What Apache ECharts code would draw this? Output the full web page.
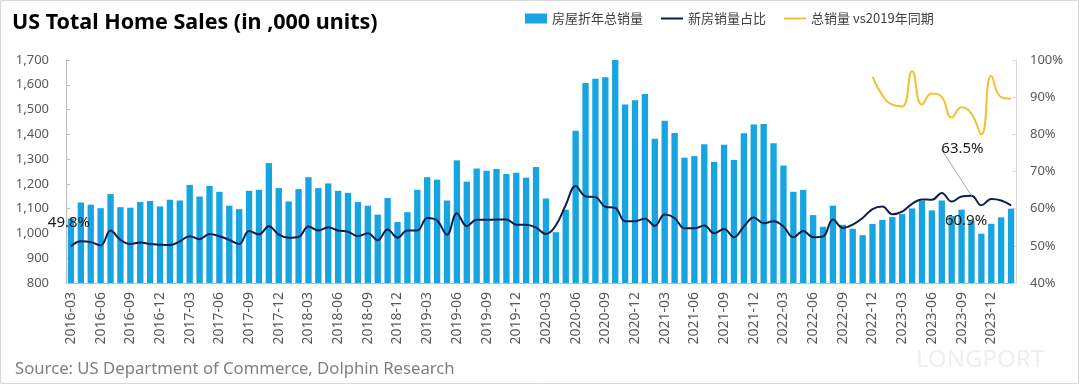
<!DOCTYPE html>
<html>
<head>
<meta charset="utf-8">
<script src="https://cdn.jsdelivr.net/npm/echarts@6/dist/echarts.min.js"></script>
<style>
html,body{margin:0;padding:0;background:#fff;}
#chart{width:1080px;height:386px;}
</style>
</head>
<body>
<div id="chart"></div>
<script>
const categories = [
'2016-03','2016-04','2016-05','2016-06','2016-07','2016-08','2016-09','2016-10','2016-11','2016-12',
'2017-01','2017-02','2017-03','2017-04','2017-05','2017-06','2017-07','2017-08','2017-09','2017-10','2017-11','2017-12',
'2018-01','2018-02','2018-03','2018-04','2018-05','2018-06','2018-07','2018-08','2018-09','2018-10','2018-11','2018-12',
'2019-01','2019-02','2019-03','2019-04','2019-05','2019-06','2019-07','2019-08','2019-09','2019-10','2019-11','2019-12',
'2020-01','2020-02','2020-03','2020-04','2020-05','2020-06','2020-07','2020-08','2020-09','2020-10','2020-11','2020-12',
'2021-01','2021-02','2021-03','2021-04','2021-05','2021-06','2021-07','2021-08','2021-09','2021-10','2021-11','2021-12',
'2022-01','2022-02','2022-03','2022-04','2022-05','2022-06','2022-07','2022-08','2022-09','2022-10','2022-11','2022-12',
'2023-01','2023-02','2023-03','2023-04','2023-05','2023-06','2023-07','2023-08','2023-09','2023-10','2023-11','2023-12',
'2024-01','2024-02'
];

// 房屋折年总销量 (,000 units)
const totalSales = [
1060,1125,1116,1102,1159,1106,1104,1127,1131,1109,
1136,1133,1196,1149,1192,1168,1112,1098,1172,1176,1284,1183,
1129,1179,1227,1183,1202,1172,1164,1127,1112,1076,1143,1046,
1086,1176,1227,1217,1133,1295,1209,1262,1253,1260,1240,1245,
1225,1268,1141,1005,1096,1414,1607,1624,1630,1700,1520,1538,
1563,1382,1455,1405,1306,1312,1360,1289,1358,1297,1404,1440,
1442,1364,1274,1168,1176,1074,1027,1112,1035,1019,993,1038,
1055,1066,1078,1101,1132,1093,1133,1070,1096,1050,999,1039,
1065,1100
];

// 新房销量占比 (%)
const newShare = [
49.8,51.2,51.0,50.1,54.1,51.6,50.5,50.9,50.5,50.3,
50.2,51.2,52.6,51.8,53.2,52.6,51.6,50.5,54.0,53.1,55.3,53.0,
52.2,52.4,55.2,54.1,55.0,54.1,53.8,52.6,53.4,51.5,54.4,52.2,
54.1,54.1,57.5,56.8,53.0,58.8,55.3,57.0,57.0,57.1,57.1,55.7,
55.7,54.9,53.2,55.5,61.0,66.1,63.3,63.1,60.5,60.2,56.6,56.6,
57.3,55.4,58.4,57.5,54.7,54.7,55.5,53.4,54.5,52.3,55.2,57.6,
56.1,56.6,55.2,52.3,54.0,52.3,52.5,57.1,54.8,55.7,57.5,59.9,
60.6,58.5,59.2,61.3,62.5,62.4,64.2,61.9,63.3,63.5,60.9,62.6,
62.2,60.9
];

// 总销量 vs2019年同期 (%), starting 2022-12
const vs2019Start = '2022-12';
const vs2019 = [95.5,90.5,88.0,87.5,97.0,88.0,91.0,90.0,84.5,87.3,85.5,80.0,95.7,90.0,89.6];

const leftTicks = {min:800, max:1700, interval:100};
const rightTicks = {min:40, max:100, interval:10};

const startIdx = categories.indexOf(vs2019Start);
const vs2019Full = categories.map((c,i)=> (i>=startIdx && i-startIdx<vs2019.length) ? vs2019[i-startIdx] : null);

const labeled = {0:{dx:-2,dy:-11,line:false}, 91:{dx:-9,dy:-34,line:true}, 95:{dx:-45,dy:28,line:false}};
const shareData = newShare.map((v,i)=>{
  if (labeled[i]) {
    return {value:v, label:{show:true}, labelLine:{show:labeled[i].line}};
  }
  return v;
});

const chart = echarts.init(document.getElementById('chart'), null, {renderer:'canvas'});
const baseFont = 'Noto Sans, "Noto Sans CJK SC", sans-serif';
const lineIcon = 'path://M0,0 L22,0 L22,2 L0,2 Z';
chart.setOption({
  backgroundColor:'#ffffff',
  animation:false,
  textStyle:{fontFamily:baseFont},
  title:[
    {text:'US Total Home Sales (in ,000 units)', left:7, top:7,
     textStyle:{fontSize:21.5, fontWeight:'bold', color:'#000', fontFamily:'"Noto Sans", sans-serif'}},
    {text:'Source: US Department of Commerce, Dolphin Research', left:10, top:356,
     textStyle:{fontSize:16.7, fontWeight:'normal', color:'#7f7f7f', fontFamily:baseFont}}
  ],
  legend:{
    left:520, top:7, itemWidth:22, itemHeight:10, itemGap:18,
    textStyle:{fontSize:13, color:'#404040', fontFamily:'"Noto Sans CJK SC", sans-serif'},
    data:[{name:'房屋折年总销量', icon:'rect'},{name:'新房销量占比', icon:lineIcon},{name:'总销量 vs2019年同期', icon:lineIcon}]
  },
  grid:{left:66, right:64, top:60, bottom:103, outerBoundsMode:'none'},
  xAxis:{
    type:'category', data:categories, boundaryGap:true,
    axisLine:{show:true, lineStyle:{color:'#bfbfbf'}},
    axisTick:{show:false},
    axisLabel:{rotate:90, interval:(idx)=> idx%3===0, margin:9, fontSize:14, color:'#595959', fontFamily:baseFont}
  },
  yAxis:[
    {type:'value', min:leftTicks.min, max:leftTicks.max, interval:leftTicks.interval,
     axisLine:{show:true, lineStyle:{color:'#bfbfbf'}},
     axisTick:{show:true, inside:true, length:4, lineStyle:{color:'#bfbfbf'}},
     splitLine:{show:false},
     axisLabel:{margin:17, fontSize:13, color:'#595959', fontFamily:baseFont,
       formatter:(v)=> v.toLocaleString('en-US')}},
    {type:'value', min:rightTicks.min, max:rightTicks.max, interval:rightTicks.interval, position:'right',
     axisLine:{show:true, lineStyle:{color:'#d9d9d9'}},
     axisTick:{show:true, inside:true, length:4, lineStyle:{color:'#d9d9d9'}},
     splitLine:{show:false},
     axisLabel:{margin:14, fontSize:13, color:'#595959', fontFamily:baseFont, formatter:'{value}%'}}
  ],
  series:[
    {name:'房屋折年总销量', type:'bar', data:totalSales, barWidth:'64%', yAxisIndex:0,
     itemStyle:{color:'#16A5E0'}, z:1},
    {name:'新房销量占比', type:'line', data:shareData, yAxisIndex:1, smooth:0.4,
     symbol:'circle', symbolSize:0, showSymbol:true, showAllSymbol:true,
     lineStyle:{color:'#0E1E4C', width:2}, itemStyle:{color:'#0E1E4C'},
     label:{show:false, position:'top', fontSize:15, color:'#1a1a1a', fontFamily:baseFont,
       formatter:(p)=> p.value.toFixed(1)+'%'},
     labelLine:{show:false, lineStyle:{color:'#a6a6a6', width:1}},
     labelLayout:(p)=>{ const o = labeled[p.dataIndex]; return o ? {dx:o.dx, dy:o.dy} : {}; },
     z:3},
    {name:'总销量 vs2019年同期', type:'line', data:vs2019Full, yAxisIndex:1, smooth:0.5,
     symbol:'none', showSymbol:false, connectNulls:false,
     lineStyle:{color:'#EEC232', width:2}, itemStyle:{color:'#EEC232'}, z:3}
  ],
  graphic:[
    {type:'rect', shape:{x:0.5, y:0.5, width:1078, height:383}, style:{fill:'none', stroke:'#d9d9d9', lineWidth:1}, silent:true, z:-10},
    {type:'text', right:36, top:348, silent:true, z:-5,
     style:{text:'LONGPORT', fontSize:24, fontFamily:'"Noto Sans", sans-serif', fill:'#efefef'}}
  ]
});
</script>
</body>
</html>
